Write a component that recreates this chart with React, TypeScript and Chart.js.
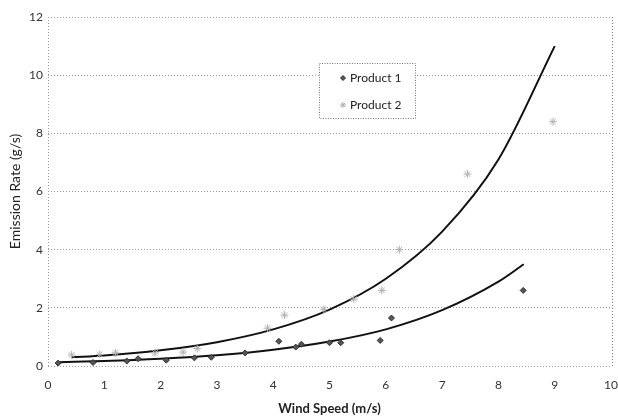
import React, { useEffect, useRef } from "react";
import { Chart, registerables } from "chart.js";

Chart.register(...registerables);

// Observed data points (Wind speed m/s, Emission rate g/s)
const product1X = [0.18, 0.8, 1.4, 1.6, 2.1, 2.6, 2.9, 3.5, 4.1, 4.4, 4.5, 5.0, 5.2, 5.9, 6.1, 8.44];
const product1Y = [0.1, 0.12, 0.17, 0.25, 0.2, 0.28, 0.3, 0.45, 0.85, 0.65, 0.75, 0.8, 0.8, 0.88, 1.65, 2.6];

const product2X = [0.42, 0.92, 1.2, 1.9, 2.4, 2.65, 3.9, 4.2, 4.9, 5.43, 5.93, 6.24, 7.45, 8.97];
const product2Y = [0.38, 0.4, 0.45, 0.45, 0.48, 0.6, 1.3, 1.75, 1.95, 2.3, 2.6, 4.0, 6.6, 8.4];

// Trend curves
const trend1X = [0.2, 1, 2, 3, 4, 5, 6, 7, 8, 8.45];
const trend1Y = [0.13, 0.17, 0.25, 0.37, 0.56, 0.84, 1.26, 1.92, 2.9, 3.5];

const trend2X = [0.42, 1, 2, 3, 4, 5, 6, 7, 8, 9];
const trend2Y = [0.3, 0.36, 0.54, 0.82, 1.26, 1.94, 3.0, 4.62, 7.1, 11.0];

const seriesNames = ["Product 1", "Product 2"];
const xTitle = "Wind Speed (m/s)";
const yTitle = "Emission Rate (g/s)";

const toPoints = (xs: number[], ys: number[]) => xs.map((x, i) => ({ x, y: ys[i] }));

const drawDiamond = (ctx: CanvasRenderingContext2D, x: number, y: number, r: number) => {
  ctx.beginPath();
  ctx.moveTo(x, y - r);
  ctx.lineTo(x + r, y);
  ctx.lineTo(x, y + r);
  ctx.lineTo(x - r, y);
  ctx.closePath();
  ctx.fillStyle = "#555";
  ctx.fill();
  ctx.strokeStyle = "#333";
  ctx.lineWidth = 1;
  ctx.stroke();
};

const drawStar = (ctx: CanvasRenderingContext2D, x: number, y: number, r: number) => {
  ctx.beginPath();
  ctx.moveTo(x - r, y);
  ctx.lineTo(x + r, y);
  ctx.moveTo(x, y - r);
  ctx.lineTo(x, y + r);
  const d = r * Math.SQRT1_2;
  ctx.moveTo(x - d, y - d);
  ctx.lineTo(x + d, y + d);
  ctx.moveTo(x - d, y + d);
  ctx.lineTo(x + d, y - d);
  ctx.strokeStyle = "#b0b0b0";
  ctx.lineWidth = 1;
  ctx.stroke();
};

const framePlugin = {
  id: "frame",
  beforeDatasetsDraw(chart: any) {
    const { ctx, chartArea } = chart;
    ctx.save();
    ctx.setLineDash([1, 2]);
    ctx.lineWidth = 1;
    ctx.strokeStyle = "#999";
    ctx.beginPath();
    ctx.moveTo(chartArea.left + 0.5, chartArea.top);
    ctx.lineTo(chartArea.left + 0.5, chartArea.bottom);
    ctx.stroke();
    ctx.strokeStyle = "#777";
    ctx.beginPath();
    ctx.moveTo(chartArea.right + 1.5, chartArea.top);
    ctx.lineTo(chartArea.right + 1.5, chartArea.bottom);
    ctx.stroke();
    ctx.restore();
  },
  afterDraw(chart: any) {
    const { ctx } = chart;
    const box = { x: 319.5, y: 63.5, w: 96, h: 55 };
    ctx.save();
    ctx.fillStyle = "#fff";
    ctx.fillRect(box.x, box.y, box.w, box.h);
    ctx.setLineDash([1, 1.5]);
    ctx.strokeStyle = "#777";
    ctx.lineWidth = 1;
    ctx.strokeRect(box.x, box.y, box.w, box.h);
    ctx.setLineDash([]);
    drawDiamond(ctx, 343, 78, 2.5);
    drawStar(ctx, 343, 105, 3);
    ctx.fillStyle = "#222";
    ctx.font = "12px Lato, 'Open Sans', sans-serif";
    ctx.textBaseline = "middle";
    ctx.textAlign = "left";
    ctx.fillText(seriesNames[0], 350, 78);
    ctx.fillText(seriesNames[1], 350, 105);
    ctx.restore();
  },
};

export default function App() {
  const canvasRef = useRef<HTMLCanvasElement | null>(null);

  useEffect(() => {
    const canvas = canvasRef.current;
    if (!canvas) return;
    const chart = new Chart(canvas, {
      type: "scatter",
      data: {
        datasets: [
          {
            label: seriesNames[0],
            data: toPoints(product1X, product1Y),
            pointStyle: "rectRot",
            pointRadius: 3,
            backgroundColor: "#555",
            borderColor: "#333",
            borderWidth: 1,
          },
          {
            label: seriesNames[1],
            data: toPoints(product2X, product2Y),
            pointStyle: "star",
            pointRadius: 4,
            backgroundColor: "#b0b0b0",
            borderColor: "#b0b0b0",
            borderWidth: 1,
          },
          {
            type: "line",
            label: "trend1",
            data: toPoints(trend1X, trend1Y),
            showLine: true,
            pointRadius: 0,
            borderColor: "#111",
            borderWidth: 2,
            cubicInterpolationMode: "monotone",
            fill: false,
          } as any,
          {
            type: "line",
            label: "trend2",
            data: toPoints(trend2X, trend2Y),
            showLine: true,
            pointRadius: 0,
            borderColor: "#111",
            borderWidth: 2,
            cubicInterpolationMode: "monotone",
            fill: false,
          } as any,
        ],
      },
      options: {
        responsive: false,
        animation: false,
        devicePixelRatio: 1,
        layout: { padding: { top: 17, right: 17.5, bottom: 0, left: 0 } },
        plugins: {
          legend: { display: false },
          tooltip: { enabled: false },
        },
        scales: {
          x: {
            type: "linear",
            min: 0,
            max: 10,
            afterFit: (s: any) => {
              s.height = 53;
            },
            ticks: {
              stepSize: 1,
              padding: 12,
              color: "#333",
              font: { family: "Lato, 'Open Sans', sans-serif", size: 12 },
            },
            grid: { display: false, drawTicks: false },
            border: { display: false },
            title: {
              display: true,
              text: xTitle,
              color: "#222",
              padding: { top: 0, bottom: 2 },
              font: { family: "Lato, 'Open Sans', sans-serif", size: 13, weight: "bold" },
            },
          },
          y: {
            type: "linear",
            min: 0,
            max: 12,
            afterFit: (s: any) => {
              s.width = 48;
            },
            ticks: {
              stepSize: 2,
              padding: 5,
              color: "#333",
              font: { family: "Lato, 'Open Sans', sans-serif", size: 12 },
            },
            grid: { color: "#999", lineWidth: 1, drawTicks: false },
            border: { display: false, dash: [1, 2] },
            title: {
              display: true,
              text: yTitle,
              color: "#222",
              padding: { top: 7, bottom: 0 },
              font: { family: "Lato, 'Open Sans', sans-serif", size: 14, weight: "normal" },
            },
          },
        },
      },
      plugins: [framePlugin],
    } as any);
    return () => chart.destroy();
  }, []);

  return (
    <div style={{ position: "fixed", left: 0, top: 0, width: 618, height: 419, overflow: "hidden", background: "#fff" }}>
      <canvas ref={canvasRef} width={630} height={419} style={{ display: "block" }} />
    </div>
  );
}
